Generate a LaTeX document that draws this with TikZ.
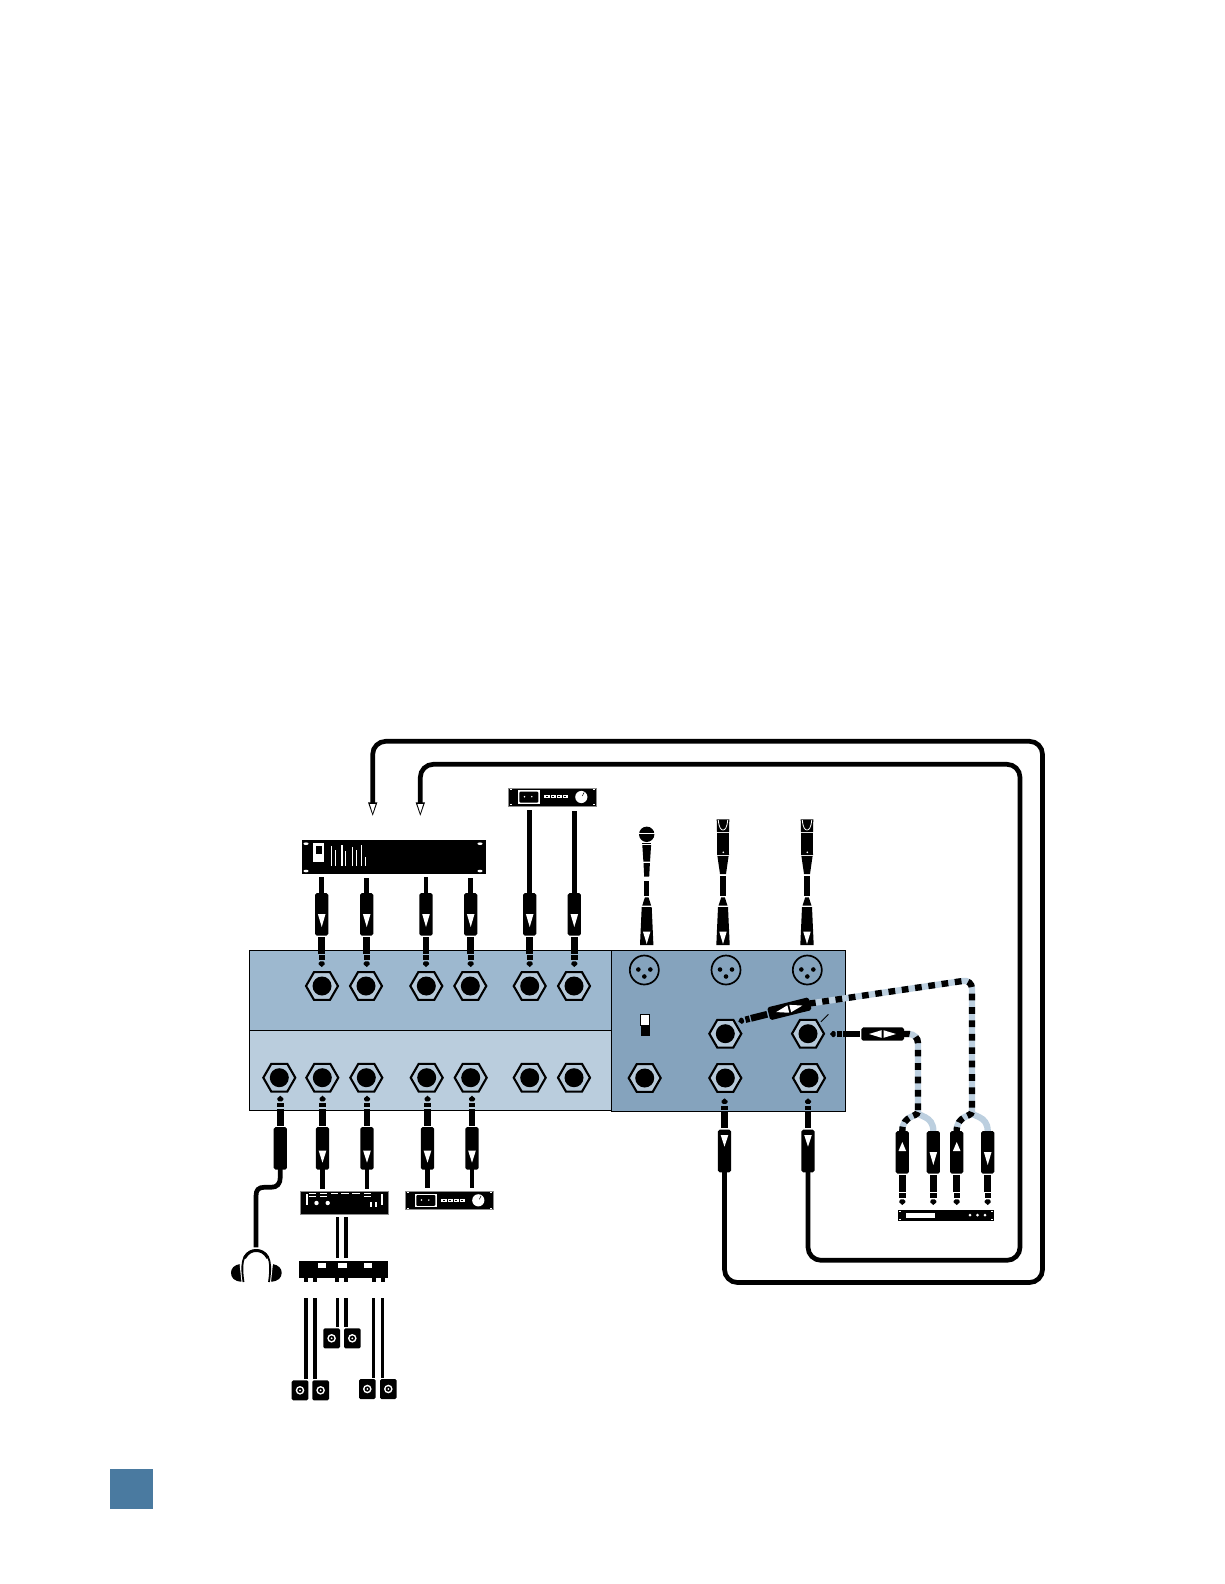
\documentclass[tikz,border=0pt]{standalone}
\usetikzlibrary{shapes.geometric}
\definecolor{pTop}{HTML}{9DB8CF}
\definecolor{pBot}{HTML}{BACDDD}
\definecolor{pRight}{HTML}{85A3BD}
\definecolor{ring}{HTML}{B6C9D9}
\definecolor{stripe}{HTML}{BCCFDF}
\definecolor{tab}{HTML}{4A7AA0}
\newcommand{\putpic}[4]{\begin{scope}[shift={(#1,#2)},rotate=#3]\pic {#4};\end{scope}}
\tikzset{
 panel/.style={draw=black,line width=0.7pt,inner sep=0,outer sep=0},
 hexjack/.style={regular polygon,regular polygon sides=6,draw=black,line width=2.1pt,fill=ring,minimum size=32pt,inner sep=0},
 jackhole/.style={circle,fill=black,minimum size=19pt,inner sep=0},
 xlrjack/.style={circle,draw=black,line width=1.7pt,minimum size=29pt,inner sep=0},
 cable/.style={line width=4.7pt,draw=black},
 thincable/.style={line width=3.4pt,draw=black},
 rcable/.style={line width=4.7pt,draw=black,rounded corners=13pt},
 stripebase/.style={line width=6.3pt,draw=stripe},
 stripetop/.style={line width=6.3pt,draw=black,dash pattern=on 6.7pt off 6.7pt},
 pics/plugbase/.code={
  \fill[black] (0,0)--(-3,-2.6)--(-3,-4)--(-1.6,-5.6)--(1.6,-5.6)--(3,-4)--(3,-2.6)--cycle;
  \fill[black] (-3.2,-7.4) rectangle (3.2,-11.6);
  \fill[black] (-3.4,-13) rectangle (3.4,-29.8);
  \fill[black,rounded corners=1.8pt] (-6.6,-31.3) rectangle (6.6,-74);
 },
 pics/plugin/.code={
  \pic {plugbase};
  \fill[white] (0,-40)--(-3.8,-53)--(3.8,-53)--cycle;
 },
 pics/plugout/.code={
  \pic {plugbase};
  \fill[white] (0,-67)--(-3.8,-55)--(3.8,-55)--cycle;
 },
 pics/plugret/.code={
  \pic {plugbase};
  \fill[white] (0,-48.4)--(-3.8,-36.7)--(3.8,-36.7)--cycle;
 },
 pics/plugup/.code={
  \pic {plugbase};
  \fill[white] (0,-63)--(-3.8,-54)--(3.8,-54)--cycle;
 },
 pics/plugboth/.code={
  \pic {plugbase};
  \fill[white] (0,-39)--(-3.8,-51.5)--(3.8,-51.5)--cycle;
  \fill[white] (0,-66)--(-3.8,-53.5)--(3.8,-53.5)--cycle;
 },
 pics/minirack/.code={
  \fill[black] (0,0) rectangle (88,18.3);
  \draw[black!45,line width=0.4pt] (0,0) rectangle (88,18.3);
  \fill[white] (9.4,2.2) rectangle (31.7,16);
  \fill[black,rounded corners=1pt] (11,3.7) rectangle (30,14.5);
  \fill[white] (16.2,8.7) circle (0.8);
  \fill[white] (23.5,8.7) circle (0.8);
  \fill[white] (35.5,7.2) rectangle (60,10.4);
  \foreach \a in {38,44,50,56}{\fill[black] (\a,8.2) rectangle (\a+2,9.4);}
  \foreach \a in {41.2,47.2,53.2}{\fill[black] (\a,7.2) rectangle (\a+0.8,10.4);}
  \fill[white] (73,9) circle (6.1);
  \draw[black,line width=0.5pt] (74,8)--(75.8,4.5);
  \foreach \a/\b in {1.2/1,1.2/16.3,84.7/1,84.7/16.3}{\fill[white] (\a,\b) rectangle (\a+2.2,\b+1);}
 },
 pics/speaker/.code={
  \fill[black,rounded corners=1.5pt] (0,0) rectangle (16.7,20);
  \fill[white] (8.3,10) circle (4.3);
  \fill[black] (8.3,10) circle (2.7);
  \fill[white] (8.3,10) circle (1);
 },
 pics/microd/.code={
  \fill[black] (-1.8,0)--(1.8,0)--(4.5,8.4)--(-4.5,8.4)--cycle;
  \fill[black] (-5,9.8)--(5,9.8)--(6.7,47.7)--(-6.7,47.7)--cycle;
  \fill[white] (0,46.7)--(-3.7,34.4)--(3.7,34.4)--cycle;
 }
}
\begin{document}
\begin{tikzpicture}[x=1pt,y=-1pt]
\useasboundingbox (0,0) rectangle (1224,1584);

% panels
\node[panel,fill=pTop,minimum width=362.4pt,minimum height=80pt,anchor=north west] (ptop) at (249.3,950.3) {};
\node[panel,fill=pBot,minimum width=362.4pt,minimum height=80pt,anchor=north west] (pbot) at (249.3,1030.3) {};
\node[panel,fill=pRight,minimum width=233.6pt,minimum height=161pt,anchor=north west] (pright) at (611.7,950.3) {};
\node[fill=tab,minimum width=43pt,minimum height=40pt,inner sep=0,anchor=north west] (tabsq) at (110,1469) {};

% jacks
\foreach \n/\x/\y in {ta/322/986,tb/366/986,tc/426.3/986,td/470.3/986,te/529.7/986,tf/574/986,
 ba/279.3/1077.7,bb/322.3/1077.7,bc/366.3/1077.7,bd/426.7/1077.7,be/470.7/1077.7,bf/529.7/1077.7,bg/574/1077.7,
 ra/644.7/1078,rb/725.3/1078,rc/809/1078,ma/725.3/1033.7,mb/808/1033.7}{
 \node[hexjack] (\n) at (\x,\y) {};
 \node[jackhole] at (\x,\y) {};
}
% XLR jacks
\foreach \n/\x in {xa/644.3,xb/726,xc/807.3}{
 \node[xlrjack] (\n) at (\x,970) {};
 \fill[black] (\x-6,969.5) circle (2.3);
 \fill[black] (\x+6,969.5) circle (2.3);
 \fill[black] (\x,976.5) circle (2.3);
}
% switch
\node[fill=white,draw=black,line width=0.3pt,minimum width=9pt,minimum height=11.5pt,inner sep=0,anchor=north] (swa) at (645,1013.5) {};
\node[fill=black,minimum width=9pt,minimum height=11pt,inner sep=0,anchor=north] (swb) at (645,1025) {};
\draw[black,line width=0.8pt] (mb.north east)++(2,-1) coordinate (tickA) -- ++(7.5,-7.5) coordinate (tickB);

% devices
\node[fill=black,minimum width=184pt,minimum height=34pt,inner sep=0,anchor=north west] (dtop) at (302,840) {};
\foreach \a/\b in {306/843.7,480/843.7,306/871,480/871}{\fill[white] (\a,\b) ellipse (2.6 and 1.3);}
\fill[white] (312.7,843.3) rectangle (324,862);
\fill[black] (315.7,845.7) rectangle (321.7,854);
\foreach \a/\t/\w in {331.3/845.5/0.8,335.3/849.5/0.8,341.7/845/1.6,345.3/851/1.6,352.3/847/0.8,356/850/0.8,361.7/845/0.8,365.7/856.5/0.8}{
 \fill[white] (\a-\w/2,\t) rectangle (\a+\w/2,866);}
\putpic{508.3}{788}{0}{minirack}
\putpic{405.3}{1191.3}{0}{minirack}

% centre rack
\node[fill=black,draw=black!45,line width=0.4pt,minimum width=88.3pt,minimum height=23.3pt,inner sep=0,anchor=north west] (drack) at (300,1191) {};
\foreach \a in {312.5,323.5,334.5,345,356,367.5}{\fill[white] (\a-3.8,1193) rectangle (\a+3.8,1194.2);}
\foreach \a in {312.5,323.5,367.5}{\fill[white] (\a-3.8,1196) rectangle (\a+3.8,1197.2);}
\fill[white] (305.5,1193.5) rectangle (307.5,1205);
\fill[white] (380.5,1193.5) rectangle (382.5,1205);
\fill[white] (316.5,1203) circle (2.2);
\fill[white] (327.7,1203) circle (2.2);
\fill[white] (369.5,1201.5) rectangle (371.5,1206.5);
\fill[white] (374.5,1201.5) rectangle (376.5,1206.5);

% splitter
\node[fill=black,minimum width=89pt,minimum height=17.3pt,inner sep=0,anchor=north west] (dsplit) at (299,1260.7) {};
\foreach \a in {306,315,337.3,346,373.7,382.7}{\fill[black] (\a-1.9,1278) rectangle (\a+1.9,1282);}
\foreach \a in {317.7,338.3,363.7}{\fill[white] (\a,1263.3) rectangle (\a+8.6,1268);}

% rack lower right
\node[fill=black,minimum width=96.7pt,minimum height=10.7pt,inner sep=0,anchor=north west] (dsmall) at (897.3,1210) {};
\fill[white] (906,1213) rectangle (935,1217.7);
\foreach \a in {970,977.5,985}{\fill[white] (\a,1215.2) circle (1.5);}
\foreach \a/\b in {898.5/1211,898.5/1218.5,990.5/1211,990.5/1218.5}{\fill[white] (\a,\b) rectangle (\a+2,\b+1);}

% speakers
\putpic{323.3}{1328.3}{0}{speaker}
\putpic{344}{1328.3}{0}{speaker}
\putpic{291.7}{1380.3}{0}{speaker}
\putpic{312.3}{1380.3}{0}{speaker}
\putpic{359}{1379}{0}{speaker}
\putpic{380}{1379}{0}{speaker}

% plugs top row
\foreach \x/\ytop in {321.7/877,366.7/878,426/877,470.7/878,529.7/810,574.3/811}{
 \draw[cable] (\x,\ytop)--(\x,895);
 \putpic{\x}{967}{0}{plugin}
}
% plugs bottom row
\foreach \x/\ybot in {322.5/1188.7,367/1188.7,427.5/1188,472/1188}{
 \draw[cable] (\x,1167)--(\x,\ybot);
 \putpic{\x}{1095.7}{180}{plugout}
}
% headphones plug and cable
\putpic{280.3}{1095.7}{180}{plugbase}
\draw[cable] (280.3,1167)--(280.3,1177) .. controls (280.3,1184) and (277,1187.3) .. (271,1187.3)
 -- (264,1187.3) .. controls (258.5,1187.3) and (256,1190) .. (256,1196) -- (256,1247.3);
% headphones
\fill[black] (240,1264) .. controls (234,1265) and (231,1268.5) .. (231,1272.7) .. controls (231,1277.5) and (234,1281.5) .. (242,1281.7) -- cycle;
\fill[black] (272.5,1264) .. controls (278.5,1265) and (281.7,1268.5) .. (281.7,1272.7) .. controls (281.7,1277.5) and (278.5,1281.5) .. (270.5,1281.7) -- cycle;
\draw[white,line width=1pt] (240,1263)--(242,1282);
\draw[white,line width=1pt] (272.5,1263)--(270.5,1282);
\draw[black,line width=1.8pt] (243.5,1282) .. controls (241.5,1268) and (240,1250.5) .. (256.2,1250.5) .. controls (272.5,1250.5) and (271,1268) .. (269,1282);
\draw[black,line width=3pt] (244.5,1258) .. controls (248,1252) and (252,1250.5) .. (256.2,1250.5) .. controls (260.5,1250.5) and (264.5,1252) .. (268,1258);

% rack cables
\foreach \x in {337.3,346}{\draw[thincable] (\x,1217)--(\x,1258.3);\draw[thincable] (\x,1298.3)--(\x,1327.3);}
\foreach \x in {306,315}{\draw[thincable] (\x,1298.3)--(\x,1379);}
\foreach \x in {373.7,382.7}{\draw[thincable] (\x,1298.3)--(\x,1378);}

% mics
\foreach \x in {646.7,723,807}{\putpic{\x}{897.3}{0}{microd}}
% mic 1
\fill[black] (646.7,834.3) circle (7.7);
\draw[white,line width=0.9pt] (638,833.5)--(655,833.5);
\fill[black] (642.2,842.6) rectangle (651.2,844);
\fill[black] (642.3,845)--(651.1,845)--(650,861.7)--(643.4,861.7)--cycle;
\fill[black] (643.5,863)--(649.9,863)--(649.2,876.7)--(644.2,876.7)--cycle;
\fill[black] (644,880.7) rectangle (649.4,896);
% mic 2, 3
\foreach \x in {723,807}{
 \fill[black] (\x-6.3,819.3)--(\x+6.3,819.3)--(\x+6,832)--(\x-6,832)--cycle;
 \draw[white,line width=0.8pt] (\x-4.7,820) .. controls (\x-4,828) and (\x-2,830) .. (\x,830) .. controls (\x+2,830) and (\x+4,828) .. (\x+4.7,820);
 \fill[black] (\x-5.8,833)--(\x+5.8,833)--(\x+6,855)--(\x-6,855)--cycle;
 \fill[white] (\x+0.3,852.3) circle (0.9);
 \fill[black] (\x-5.6,856)--(\x+5.6,856)--(\x+3,874)--(\x-3,874)--cycle;
 \fill[black] (\x-2.7,876.2) rectangle (\x+2.7,895.6);
}

% angled plug with striped cable
\draw[stripebase,rounded corners=9pt] (809,1003.6)--(972,979.6)--(972,1113);
\draw[stripetop,rounded corners=9pt] (809,1003.6)--(972,979.6)--(972,1113);
\putpic{738.3}{1021.5}{-76}{plugboth}
% horizontal plug with striped cable
\draw[stripebase,rounded corners=9pt] (903,1034)--(918,1034)--(918,1113);
\draw[stripetop,rounded corners=9pt] (903,1034)--(918,1034)--(918,1113);
\putpic{830}{1034}{-90}{plugboth}

% Y splits
\foreach \c/\l/\r in {917.7/902.3/933.3,971.7/956.7/987.7}{
 \draw[stripebase] (\c,1112) .. controls (\c,1117) and (\r,1115) .. (\r,1131);
 \draw[stripebase] (\c,1112) .. controls (\c,1117) and (\l,1115) .. (\l,1131);
 \draw[stripetop,dash pattern=on 6pt off 5pt] (\c,1112) .. controls (\c,1117) and (\l,1115) .. (\l,1131);
}
% plugs to small rack
\foreach \x/\k in {902.3/plugup,933.3/plugin,956.7/plugup,987.7/plugin}{\putpic{\x}{1205}{0}{\k}}

% return plugs
\foreach \x in {724.5,808}{
 \putpic{\x}{1098.3}{180}{plugret}
}
% return cables
\draw[rcable] (724.5,1165)--(724.5,1282.5)--(1042.5,1282.5)--(1042.5,741.3)--(372.7,741.3)--(372.7,804);
\draw[rcable] (808,1165)--(808,1260.3)--(1020,1260.3)--(1020,764.3)--(420.3,764.3)--(420.3,804);
\foreach \x in {372.7,420.3}{
 \fill[black] (\x-4.7,802.3)--(\x+4.7,802.3)--(\x,815.7)--cycle;
 \fill[white] (\x-2.9,804)--(\x+2.9,804)--(\x,813)--cycle;
}
\end{tikzpicture}
\end{document}
